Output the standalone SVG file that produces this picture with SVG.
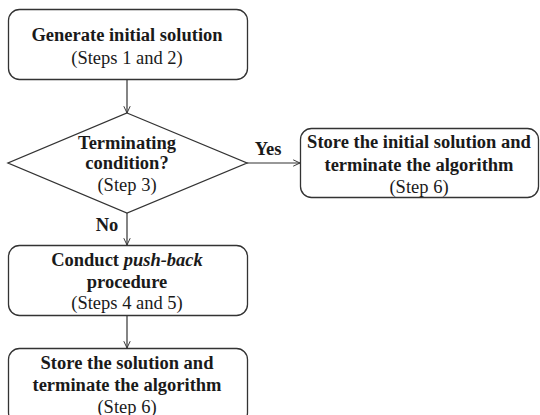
<svg xmlns="http://www.w3.org/2000/svg" width="540" height="415" viewBox="0 0 540 415">
<defs>
<marker id="arr" viewBox="0 0 10 10" refX="9.5" refY="5" markerWidth="8" markerHeight="8" markerUnits="userSpaceOnUse" orient="auto">
<path d="M1,1 L9.5,5 L1,9" fill="none" stroke="#333" stroke-width="1.2"/>
</marker>
<style>
.box{fill:#fff;stroke:#333;stroke-width:1.3}
.t{font-family:"Liberation Serif","Times New Roman",serif;font-size:18.5px;fill:#1a1a1a;text-anchor:middle}
.b{font-weight:bold}
.c{fill:none;stroke:#333;stroke-width:1.2}
</style>
</defs>
<rect width="540" height="415" fill="#fff"/>
<g id="connectors">
<line class="c" x1="127" y1="80" x2="127" y2="113" marker-end="url(#arr)"/>
<line class="c" x1="247" y1="163" x2="300" y2="163" marker-end="url(#arr)"/>
<line class="c" x1="127" y1="213" x2="127" y2="245" marker-end="url(#arr)"/>
<line class="c" x1="127" y1="315" x2="127" y2="348" marker-end="url(#arr)"/>
<text class="t b" x="268" y="155">Yes</text>
<text class="t b" x="107" y="231">No</text>
</g>
<g id="n1">
<rect class="box" x="8.5" y="9.5" width="239" height="70" rx="11"/>
<text class="t b" x="127" y="41">Generate initial solution</text>
<text class="t" x="127" y="64">(Steps 1 and 2)</text>
</g>
<g id="n2">
<path class="box" d="M127,113 L247,163 L127,213 L8,163 Z"/>
<text class="t b" x="127" y="149">Terminating</text>
<text class="t b" x="127" y="169">condition?</text>
<text class="t" x="127" y="191">(Step 3)</text>
</g>
<g id="n3">
<rect class="box" x="300.5" y="128.5" width="238" height="69" rx="11"/>
<text class="t b" x="419" y="148">Store the initial solution and</text>
<text class="t b" x="419" y="171">terminate the algorithm</text>
<text class="t" x="419" y="193">(Step 6)</text>
</g>
<g id="n4">
<rect class="box" x="8.5" y="245.5" width="239" height="70" rx="11"/>
<text class="t b" x="127" y="266">Conduct <tspan font-style="italic">push-back</tspan></text>
<text class="t b" x="127" y="288">procedure</text>
<text class="t" x="127" y="309">(Steps 4 and 5)</text>
</g>
<g id="n5">
<rect class="box" x="8.5" y="348.5" width="239" height="75" rx="11"/>
<text class="t b" x="127" y="369">Store the solution and</text>
<text class="t b" x="127" y="391">terminate the algorithm</text>
<text class="t" x="127" y="413">(Step 6)</text>
</g>
</svg>
